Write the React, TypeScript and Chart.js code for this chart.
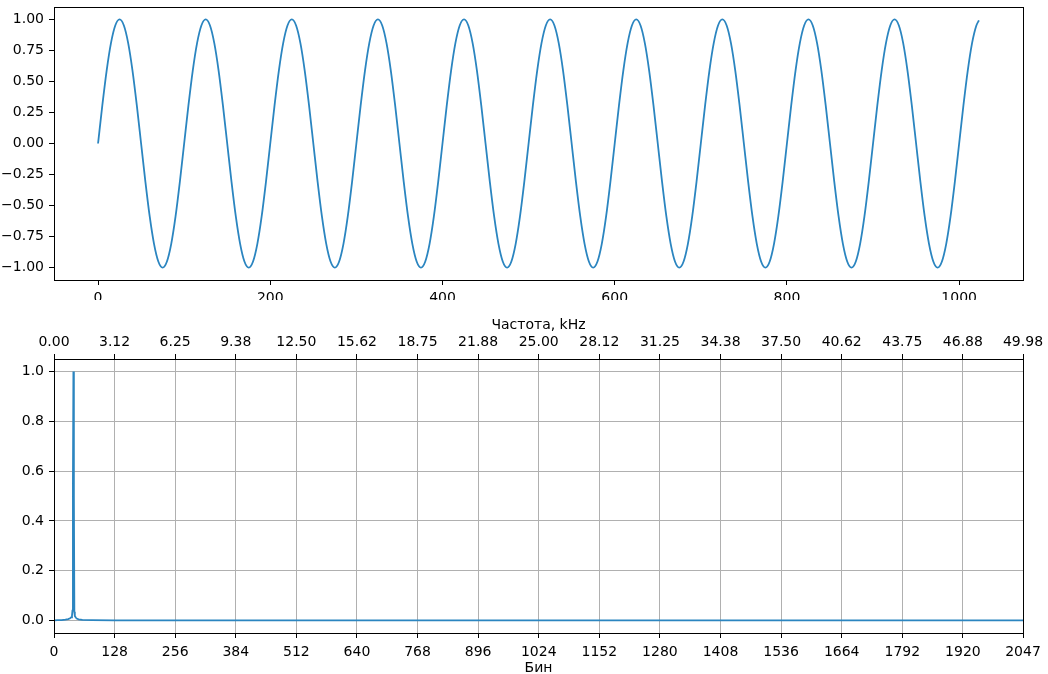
import React, { useEffect, useRef } from "react";
import { Chart, registerables } from "chart.js";

Chart.register(...registerables);

// ---------- Top chart: signal ----------
const SIGNAL_STEP = 5; // sample spacing of the stored values
const signalValues: number[] = [
  0, 0.309, 0.588, 0.809, 0.951, 1, 0.951, 0.809, 0.588, 0.309, 0, -0.309, -0.588, -0.809, -0.951, -1, -0.951, -0.809, -0.588, -0.309,
  0, 0.309, 0.588, 0.809, 0.951, 1, 0.951, 0.809, 0.588, 0.309, 0, -0.309, -0.588, -0.809, -0.951, -1, -0.951, -0.809, -0.588, -0.309,
  0, 0.309, 0.588, 0.809, 0.951, 1, 0.951, 0.809, 0.588, 0.309, 0, -0.309, -0.588, -0.809, -0.951, -1, -0.951, -0.809, -0.588, -0.309,
  0, 0.309, 0.588, 0.809, 0.951, 1, 0.951, 0.809, 0.588, 0.309, 0, -0.309, -0.588, -0.809, -0.951, -1, -0.951, -0.809, -0.588, -0.309,
  0, 0.309, 0.588, 0.809, 0.951, 1, 0.951, 0.809, 0.588, 0.309, 0, -0.309, -0.588, -0.809, -0.951, -1, -0.951, -0.809, -0.588, -0.309,
  0, 0.309, 0.588, 0.809, 0.951, 1, 0.951, 0.809, 0.588, 0.309, 0, -0.309, -0.588, -0.809, -0.951, -1, -0.951, -0.809, -0.588, -0.309,
  0, 0.309, 0.588, 0.809, 0.951, 1, 0.951, 0.809, 0.588, 0.309, 0, -0.309, -0.588, -0.809, -0.951, -1, -0.951, -0.809, -0.588, -0.309,
  0, 0.309, 0.588, 0.809, 0.951, 1, 0.951, 0.809, 0.588, 0.309, 0, -0.309, -0.588, -0.809, -0.951, -1, -0.951, -0.809, -0.588, -0.309,
  0, 0.309, 0.588, 0.809, 0.951, 1, 0.951, 0.809, 0.588, 0.309, 0, -0.309, -0.588, -0.809, -0.951, -1, -0.951, -0.809, -0.588, -0.309,
  0, 0.309, 0.588, 0.809, 0.951, 1, 0.951, 0.809, 0.588, 0.309, 0, -0.309, -0.588, -0.809, -0.951, -1, -0.951, -0.809, -0.588, -0.309,
  0, 0.309, 0.588, 0.809, 0.951,
];
const signalLastX = 1023;
const signalLastValue = 0.992;

const signalXTicks = [0, 200, 400, 600, 800, 1000];
const signalYTicks = [-1, -0.75, -0.5, -0.25, 0, 0.25, 0.5, 0.75, 1];
const signalYLabels = ["−1.00", "−0.75", "−0.50", "−0.25", "0.00", "0.25", "0.50", "0.75", "1.00"];

// ---------- Bottom chart: spectrum ----------
const spectrumBins = [0, 8, 16, 24, 30, 34, 36, 38, 39, 40, 41, 42, 43, 44, 46, 48, 52, 60, 80, 128, 256, 512, 1024, 1536, 2047];
const spectrumValues = [0.001, 0.002, 0.002, 0.004, 0.006, 0.009, 0.013, 0.02, 0.04, 0.55, 1.0, 0.5, 0.035, 0.018, 0.012, 0.008, 0.005, 0.003, 0.002, 0.001, 0.001, 0.0005, 0.0004, 0.0003, 0.0003];

const binTicks = [0, 128, 256, 384, 512, 640, 768, 896, 1024, 1152, 1280, 1408, 1536, 1664, 1792, 1920, 2047];
const freqLabels = ["0.00", "3.12", "6.25", "9.38", "12.50", "15.62", "18.75", "21.88", "25.00", "28.12", "31.25", "34.38", "37.50", "40.62", "43.75", "46.88", "49.98"];
const spectrumYTicks = [0, 0.2, 0.4, 0.6, 0.8, 1.0];
const spectrumYLabels = ["0.0", "0.2", "0.4", "0.6", "0.8", "1.0"];

const FONT = { family: "'DejaVu Sans', sans-serif", size: 14 };
const LINE_COLOR = "#2b85c0";
const LINE_WIDTH = 1.8;
const GRID_COLOR = "#b0b0b0";

const boxPlugin = {
  id: "boxPlugin",
  afterDraw(chart: any) {
    const { ctx, chartArea } = chart;
    ctx.save();
    ctx.strokeStyle = "#000";
    ctx.lineWidth = 1;
    ctx.strokeRect(chartArea.left + 0.5, chartArea.top + 0.5, chartArea.right - chartArea.left, chartArea.bottom - chartArea.top);
    ctx.restore();
  },
};

function setTicks(values: number[]) {
  return (scale: any) => {
    scale.ticks = values.map((v) => ({ value: v }));
  };
}

function labelFrom(values: number[], labels: string[]) {
  return (v: any) => {
    const i = values.findIndex((t) => Math.abs(t - Number(v)) < 1e-9);
    return i >= 0 ? labels[i] : "";
  };
}

function fixSize(dim: "width" | "height", size: number) {
  return (s: any) => {
    s[dim] = size;
    s.paddingTop = 0;
    s.paddingBottom = 0;
    s.paddingLeft = 0;
    s.paddingRight = 0;
  };
}

export default function App() {
  const topRef = useRef<HTMLCanvasElement>(null);
  const botRef = useRef<HTMLCanvasElement>(null);

  useEffect(() => {
    Chart.defaults.color = "#000";
    Chart.defaults.font.family = FONT.family;
    Chart.defaults.font.size = FONT.size;

    const signalData = signalValues.map((y, i) => ({ x: i * SIGNAL_STEP, y }));
    signalData.push({ x: signalLastX, y: signalLastValue });

    const top = new Chart(topRef.current!, {
      type: "line",
      data: {
        datasets: [
          {
            data: signalData,
            borderColor: LINE_COLOR,
            borderWidth: LINE_WIDTH,
            pointRadius: 0,
            cubicInterpolationMode: "monotone",
            fill: false,
          },
        ],
      },
      plugins: [boxPlugin],
      options: {
        animation: false,
        responsive: false,
        maintainAspectRatio: false,
        layout: { padding: { top: 7, right: 25, left: 0, bottom: 0 } },
        plugins: { legend: { display: false }, tooltip: { enabled: false } },
        scales: {
          x: {
            type: "linear",
            min: -51.15,
            max: 1074.15,
            afterBuildTicks: setTicks(signalXTicks),
            afterFit: fixSize("height", 20),
            border: { display: false },
            grid: { display: true, drawOnChartArea: false, drawTicks: true, tickLength: 5, tickColor: "#000", tickWidth: 1 },
            ticks: { font: FONT, color: "#000", padding: 5, maxRotation: 0, autoSkip: false, callback: (v: any) => String(v) },
          },
          y: {
            type: "linear",
            min: -1.1,
            max: 1.1,
            afterBuildTicks: setTicks(signalYTicks),
            afterFit: fixSize("width", 54),
            border: { display: false },
            grid: { display: true, drawOnChartArea: false, drawTicks: true, tickLength: 5, tickColor: "#000", tickWidth: 1 },
            ticks: { font: FONT, color: "#000", padding: 5, autoSkip: false, callback: labelFrom(signalYTicks, signalYLabels) },
          },
        },
      },
    } as any);

    const specData = spectrumBins.map((x, i) => ({ x, y: spectrumValues[i] }));

    const bot = new Chart(botRef.current!, {
      type: "line",
      data: {
        datasets: [
          {
            data: specData,
            borderColor: LINE_COLOR,
            borderWidth: LINE_WIDTH,
            pointRadius: 0,
            tension: 0,
            fill: false,
            xAxisID: "x",
            yAxisID: "y",
          },
        ],
      },
      plugins: [boxPlugin],
      options: {
        animation: false,
        responsive: false,
        maintainAspectRatio: false,
        layout: { padding: { top: 0, right: 25, left: 0, bottom: 0 } },
        plugins: { legend: { display: false }, tooltip: { enabled: false } },
        scales: {
          x: {
            type: "linear",
            position: "bottom",
            min: 0,
            max: 2047,
            afterBuildTicks: setTicks(binTicks),
            afterFit: fixSize("height", 41),
            border: { display: false },
            grid: { display: true, drawOnChartArea: true, color: GRID_COLOR, lineWidth: 1, drawTicks: true, tickLength: 5, tickColor: "#000", tickWidth: 1 },
            ticks: { font: FONT, color: "#000", padding: 6, maxRotation: 0, autoSkip: false, callback: (v: any) => String(v) },
            title: { display: true, text: "Бин", font: FONT, color: "#000", padding: { top: 0, bottom: -3 } },
          },
          x2: {
            type: "linear",
            position: "top",
            min: 0,
            max: 2047,
            afterBuildTicks: setTicks(binTicks),
            afterFit: fixSize("height", 59),
            border: { display: false },
            grid: { display: true, drawOnChartArea: false, drawTicks: true, tickLength: 5, tickColor: "#000", tickWidth: 1 },
            ticks: { font: FONT, color: "#000", padding: 3, maxRotation: 0, autoSkip: false, callback: labelFrom(binTicks, freqLabels) },
            title: { display: true, text: "Частота, kHz", font: FONT, color: "#000", padding: { top: 17, bottom: 0 } },
          },
          y: {
            type: "linear",
            min: -0.05,
            max: 1.05,
            afterBuildTicks: setTicks(spectrumYTicks),
            afterFit: fixSize("width", 54),
            border: { display: false },
            grid: { display: true, drawOnChartArea: true, color: GRID_COLOR, lineWidth: 1, drawTicks: true, tickLength: 5, tickColor: "#000", tickWidth: 1 },
            ticks: { font: FONT, color: "#000", padding: 5, autoSkip: false, callback: labelFrom(spectrumYTicks, spectrumYLabels) },
          },
        },
      },
    } as any);

    return () => {
      top.destroy();
      bot.destroy();
    };
  }, []);

  return (
    <div style={{ position: "fixed", left: 0, top: 0, width: 1048, height: 674, background: "#fff", overflow: "hidden" }}>
      <canvas ref={topRef} width={1048} height={300} style={{ position: "absolute", left: 0, top: 0, width: 1048, height: 300 }} />
      <canvas ref={botRef} width={1048} height={374} style={{ position: "absolute", left: 0, top: 300, width: 1048, height: 374 }} />
    </div>
  );
}
